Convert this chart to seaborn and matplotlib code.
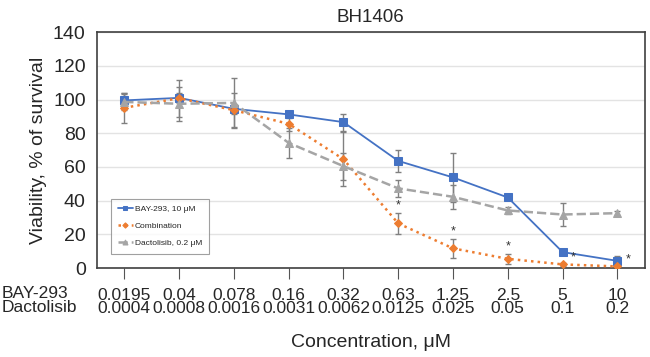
import numpy as np
import pandas as pd
import seaborn as sns
import matplotlib
matplotlib.use("Agg")
import matplotlib.pyplot as plt

# data
bay_conc = ["0.0195", "0.04", "0.078", "0.16", "0.32", "0.63", "1.25", "2.5", "5", "10"]
dac_conc = ["0.0004", "0.0008", "0.0016", "0.0031", "0.0062", "0.0125", "0.025", "0.05", "0.1", "0.2"]

bay_vals = [99.5, 101, 94.5, 91.2, 86.6, 63.6, 53.8, 41.9, 9.5, 4.3]
bay_err = [4, 3, 3, 2, 5, 6.5, 14.6, 1, 1, 3]
comb_vals = [95.1, 100.8, 93.7, 85.6, 64.6, 26.5, 11.7, 5.5, 2.2, 1.0]
comb_err = [9, 11, 10, 4, 16, 6, 5.5, 3, 1, 1]
dac_vals = [98.6, 97.5, 98.0, 74.3, 60.5, 47.3, 42.3, 34.2, 31.8, 32.6]
dac_err = [5, 10, 15, 9, 8, 5, 7, 2, 7, 1]

star_idx = [5, 6, 7, 8, 9]

sns.set_style("white")
plt.rcParams['font.family'] = ['Liberation Sans', 'DejaVu Sans']

fig = plt.figure(figsize=(6.5, 3.57), dpi=100)
ax = fig.add_axes([0.149, 0.249, 0.843, 0.661])

pos = np.arange(len(bay_conc))
series = [
    ("BAY-293, 10 μM", bay_vals, bay_err, "#4472C4", "s", "-", 6),
    ("Combination", comb_vals, comb_err, "#ED7D31", "D", ":", 4.5),
    ("Dactolisib, 0.2 μM", dac_vals, dac_err, "#A5A5A5", "^", "--", 6),
]

for name, vals, err, col, mk, ls, ms in series:
    ax.errorbar(pos, vals, yerr=err, fmt="none", ecolor="#808080",
                elinewidth=1, capsize=2, capthick=1, zorder=2)
for name, vals, err, col, mk, ls, ms in series:
    df = pd.DataFrame({"x": pos, "y": vals})
    sns.lineplot(data=df, x="x", y="y", ax=ax, color=col, marker=mk,
                 linestyle=ls, linewidth=1.8 if ls != "-" else 1.3,
                 markersize=ms, markeredgecolor=col, label=name, zorder=3)

# significance stars
for i in star_idx:
    if i < 8:
        ax.text(pos[i], comb_vals[i] + comb_err[i] + 1, "*", ha="center",
                va="bottom", fontsize=9, color="#333333")
    else:
        ax.text(pos[i] + 0.2, comb_vals[i] + 0.5, "*", ha="center",
                va="bottom", fontsize=9, color="#333333")

ax.set_xlim(-0.5, 9.5)
ax.set_ylim(0, 140)
ax.set_yticks(range(0, 141, 20))
ax.yaxis.grid(True, color="#e3e3e3", linewidth=1)
ax.set_axisbelow(True)
ax.set_xticks(pos)
ax.set_xticklabels([b + "\n" + d for b, d in zip(bay_conc, dac_conc)],
                   fontsize=12.5, linespacing=0.9)
ax.tick_params(axis="y", labelsize=14, length=6, color="#555555", pad=2)
ax.tick_params(axis="x", length=8, color="#555555", pad=6, bottom=True)
for s in ax.spines.values():
    s.set_color("#404040")
    s.set_linewidth(1.2)

ax.set_xlabel("Concentration, μM", fontsize=14, labelpad=13)
ax.set_ylabel("Viability, % of survival", fontsize=14, labelpad=4)
ax.set_title("BH1406", fontsize=13.5, pad=7)

fig.text(0.002, 0.158, "BAY-293\nDactolisib", fontsize=12.5, ha="left",
         va="center", linespacing=0.9)

leg = ax.legend(loc="lower left", bbox_to_anchor=(0.018, 0.042), fontsize=6,
                handlelength=1.8, handletextpad=0.3, markerscale=0.6,
                frameon=True, fancybox=False, edgecolor="#888888",
                labelspacing=1.1, borderpad=0.8)
leg.get_frame().set_linewidth(0.8)

fig.savefig("out.png", dpi=100)
